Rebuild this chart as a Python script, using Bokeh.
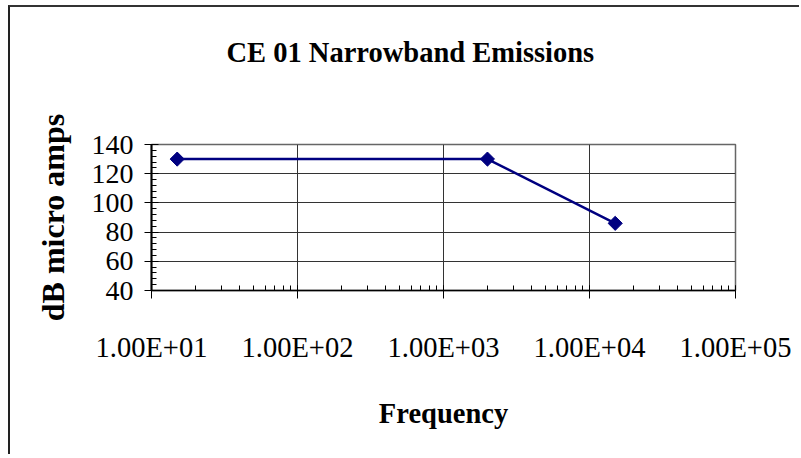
from bokeh.plotting import figure
from bokeh.models import LogTicker, SingleIntervalTicker, Range1d, Title
from bokeh.embed import file_html
from bokeh.resources import INLINE
import math

# ---- data ----
freq = [15, 2000, 15000]
level = [130, 130, 86]
x_ticks = [10, 100, 1000, 10000, 100000]
x_tick_labels = ["1.00E+01", "1.00E+02", "1.00E+03", "1.00E+04", "1.00E+05"]
title_text = "CE 01 Narrowband Emissions"
x_label = "Frequency"
y_label = "dB micro amps"

FONT = "Liberation Serif"

p = figure(width=791, height=449, x_axis_type="log",
           x_range=Range1d(10, 100000), y_range=Range1d(40, 140),
           output_backend="svg", toolbar_location=None,
           min_border_left=141, min_border_right=66,
           min_border_top=137, min_border_bottom=166)
p.styles = {"margin-left": "8px", "margin-top": "5px",
            "border-left": "2px solid #222", "border-top": "2px solid #333"}

# spacer panel between the frame and the title
spacer = Title(text=" ", text_font_size="10px", standoff=57, align="left")
p.add_layout(spacer, "above")

main_title = Title(text=title_text, text_font=FONT, text_font_size="28.5px",
                   text_font_style="bold", text_color="black", align="left",
                   vertical_align="top", offset=75, standoff=10)
p.add_layout(main_title, "above")

p.outline_line_color = "#666666"
p.outline_line_width = 1.5
p.background_fill_color = "white"
p.border_fill_color = "white"

# x axis
p.xaxis.ticker = LogTicker(num_minor_ticks=10)
p.xaxis.major_label_overrides = {t: l for t, l in zip(x_ticks, x_tick_labels)}
p.xaxis.axis_label = x_label
p.xaxis.axis_label_text_font = FONT
p.xaxis.axis_label_text_font_size = "28.5px"
p.xaxis.axis_label_text_font_style = "bold"
p.xaxis.axis_label_text_color = "black"
p.xaxis.axis_label_standoff = 32
p.xaxis.major_label_text_font = FONT
p.xaxis.major_label_text_font_size = "28.5px"
p.xaxis.major_label_text_color = "black"
p.xaxis.major_label_standoff = 33
p.xaxis.major_tick_in = 0
p.xaxis.major_tick_out = 8
p.xaxis.minor_tick_in = 5
p.xaxis.minor_tick_out = 0
p.xaxis.axis_line_color = "black"
p.xaxis.axis_line_width = 1.5
p.xaxis.major_tick_line_color = "black"
p.xaxis.minor_tick_line_color = "black"

# y axis
p.yaxis.ticker = SingleIntervalTicker(interval=20, num_minor_ticks=5)
p.yaxis.axis_label = y_label
p.yaxis.axis_label_text_font = FONT
p.yaxis.axis_label_text_font_size = "32px"
p.yaxis.axis_label_text_font_style = "bold"
p.yaxis.axis_label_text_color = "black"
p.yaxis.axis_label_standoff = 18
p.yaxis.major_label_text_font = FONT
p.yaxis.major_label_text_font_size = "28px"
p.yaxis.major_label_text_color = "black"
p.yaxis.major_label_standoff = 11
p.yaxis.major_tick_in = 7
p.yaxis.major_tick_out = 7
p.yaxis.minor_tick_in = 5
p.yaxis.minor_tick_out = 0
p.yaxis.axis_line_color = "black"
p.yaxis.axis_line_width = 2
p.yaxis.major_tick_line_color = "black"
p.yaxis.minor_tick_line_color = "black"

# grids
p.xgrid.ticker = p.xaxis.ticker
p.ygrid.ticker = p.yaxis.ticker
p.xgrid.grid_line_color = "#333333"
p.ygrid.grid_line_color = "#333333"
p.xgrid.grid_line_width = 1
p.ygrid.grid_line_width = 1

# series
p.line(freq, level, line_color="#000080", line_width=2.5)
p.scatter(freq, level, marker="square", angle=math.pi / 4, size=10,
          fill_color="#000080", line_color="#000080")

open("out.html", "w").write(file_html(p, INLINE))
